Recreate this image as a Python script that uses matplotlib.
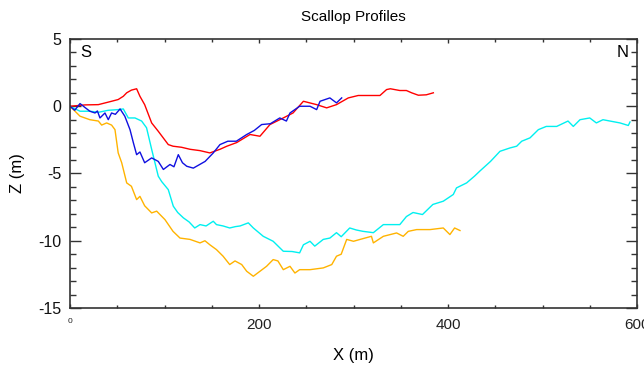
import matplotlib
matplotlib.use("Agg")
import matplotlib.pyplot as plt
from matplotlib.ticker import MultipleLocator

plt.rcParams['font.family'] = ['Liberation Sans', 'DejaVu Sans']
plt.rcParams['axes.unicode_minus'] = False

red_x = [0, 16, 30, 44, 51, 56.4, 60, 65, 70.5, 74, 79, 86.4, 93.4, 104, 109, 118, 127, 137.6, 148, 158.7, 166, 176.4, 190.5, 201, 211.6, 225.7, 236, 247, 261, 271.6, 282, 294.5, 305, 328, 335, 339, 349, 356, 361.5, 368.6, 377, 384.5]
red_z = [0, 0.1, 0.12, 0.37, 0.5, 0.74, 1.0, 1.2, 1.3, 0.74, 0.12, -1.24, -1.86, -2.85, -2.97, -3.05, -3.2, -3.3, -3.47, -3.2, -2.97, -2.7, -2.1, -2.23, -1.36, -0.87, -0.5, 0.37, 0.12, -0.12, 0.12, 0.62, 0.8, 0.8, 1.24, 1.3, 1.17, 1.17, 1.0, 0.82, 0.85, 1.0]

blue_x = [0, 5, 10.6, 16, 21, 26.5, 29, 31.7, 37, 40.5, 44, 48, 53, 58, 63.5, 67, 70.5, 74, 79, 86.4, 93.4, 98.8, 105.8, 110, 114.6, 119, 123.5, 130.5, 143, 151.6, 158.7, 167, 176, 187, 195, 202.8, 212, 222, 229, 232.8, 243, 254, 261, 264.6, 275, 282, 287.5]
blue_z = [0, -0.3, 0.2, -0.1, -0.37, -0.5, -0.35, -0.87, -0.5, -1.0, -0.5, -0.6, -0.2, -0.74, -1.74, -2.7, -3.6, -3.4, -4.2, -3.84, -4.1, -4.7, -4.33, -4.5, -3.6, -4.2, -4.46, -4.6, -4.1, -3.47, -2.85, -2.6, -2.6, -2.1, -1.8, -1.36, -1.3, -0.87, -1.1, -0.5, 0.0, 0.0, -0.25, 0.37, 0.62, 0.25, 0.62]

cyan_x = [0, 10.6, 21, 30, 40.5, 51, 56.4, 61.7, 68.8, 75.8, 81, 86.4, 93.4, 97, 104, 109.3, 114, 120, 126, 132, 137.6, 144, 151.6, 155, 162, 169, 175, 180, 188.7, 194, 204.5, 215, 225.7, 235, 243, 247, 254, 259, 268, 275, 282, 287, 296, 303, 310, 321, 331.6, 340, 349, 356, 363, 373, 384, 395, 405.6, 409, 419.7, 428, 434, 445, 455, 465.6, 472.7, 478, 486.8, 495.6, 504, 515, 527, 532.6, 539.7, 550, 557, 564, 571.4, 582, 590.8, 592.6]
cyan_z = [0, -0.37, -0.37, -0.45, -0.3, -0.25, -0.2, -0.87, -0.87, -1.1, -1.6, -3.2, -5.2, -5.6, -6.2, -7.43, -7.9, -8.3, -8.6, -9.05, -8.8, -8.9, -8.55, -8.8, -8.9, -9.05, -8.95, -8.9, -8.67, -9.05, -9.67, -10.04, -10.78, -10.8, -10.9, -10.3, -10.04, -10.4, -9.9, -9.8, -9.4, -9.7, -9.05, -9.2, -9.3, -9.4, -8.8, -8.8, -8.8, -8.2, -7.9, -8.05, -7.3, -7.06, -6.56, -6.07, -5.7, -5.2, -4.8, -4.1, -3.35, -3.1, -2.97, -2.6, -2.35, -1.74, -1.5, -1.5, -1.1, -1.5, -1.0, -0.87, -1.24, -1.0, -1.1, -1.24, -1.43, -1.17]

orange_x = [0, 10.6, 21, 30, 33.5, 38.8, 44, 47.6, 51, 54.7, 60, 65, 70.5, 74, 79, 86.4, 91.7, 100.5, 109, 116.4, 127, 137.6, 142.8, 148, 155, 162, 169, 174.6, 181.7, 187, 194, 201, 208, 215, 220, 225.7, 232.8, 238, 243, 254, 268, 277, 282, 287, 292.8, 300, 307, 319, 321, 331.6, 345.6, 352.6, 358, 366.8, 381, 395, 402, 407, 412.7]
orange_z = [0, -0.74, -1.0, -1.1, -1.4, -1.24, -1.4, -1.74, -3.47, -4.2, -5.7, -5.95, -6.94, -6.7, -7.4, -7.93, -7.8, -8.43, -9.3, -9.8, -9.9, -10.16, -10.0, -10.3, -10.66, -11.15, -11.77, -11.5, -11.77, -12.27, -12.64, -12.27, -11.9, -11.4, -11.5, -12.15, -11.9, -12.4, -12.15, -12.15, -12.02, -11.77, -11.15, -11.0, -9.9, -10.04, -9.9, -9.67, -10.16, -9.67, -9.42, -9.67, -9.3, -9.17, -9.17, -9.05, -9.54, -9.05, -9.24]

x_tick_values = [0, 200, 400, 600]
x_tick_labels = ["0", "200", "400", "600"]
y_tick_values = [-15, -10, -5, 0, 5]

fig = plt.figure(figsize=(6.44, 3.67), dpi=100)
ax = fig.add_axes([70/644, 1-308/367, 567/644, 269/367])

lw = 1.0
ax.plot(orange_x, orange_z, color="#ffb300", lw=lw)
ax.plot(cyan_x, cyan_z, color="#00f0f0", lw=lw)
ax.plot(red_x, red_z, color="#ff0000", lw=lw)
ax.plot(blue_x, blue_z, color="#1010e0", lw=lw)

ax.set_xlim(0, 600)
ax.set_ylim(-15, 5)
ax.set_xticks(x_tick_values)
ax.set_xticklabels(x_tick_labels)
ax.set_yticks(y_tick_values)
ax.xaxis.set_minor_locator(MultipleLocator(50))
ax.yaxis.set_minor_locator(MultipleLocator(1))

ax.tick_params(axis="x", which="major", direction="in", length=3, width=1, top=True, labelsize=11, pad=7, colors="#333333", labelcolor="#222222")
ax.tick_params(axis="x", which="minor", direction="in", length=2, width=1, top=True, colors="#333333")
ax.tick_params(axis="y", which="major", direction="in", length=8, width=1, right=True, labelsize=11.5, pad=6, colors="#333333", labelcolor="#111111")
ax.tick_params(axis="y", which="minor", direction="in", length=4, width=1, right=True, colors="#333333")

labels = ax.get_xticklabels()
labels[0].set_fontsize(6)

for s in ax.spines.values():
    s.set_color("#333333")
    s.set_linewidth(1.2)

ax.set_title("Scallop Profiles", fontsize=11, pad=13)
ax.set_xlabel("X (m)", fontsize=12, labelpad=12)
ax.set_ylabel("Z (m)", fontsize=12, labelpad=10)

ax.text(0.018, 0.95, "S", transform=ax.transAxes, fontsize=12, va="center", ha="left")
ax.text(0.985, 0.95, "N", transform=ax.transAxes, fontsize=12, va="center", ha="right")

fig.savefig("out.png", dpi=100)
